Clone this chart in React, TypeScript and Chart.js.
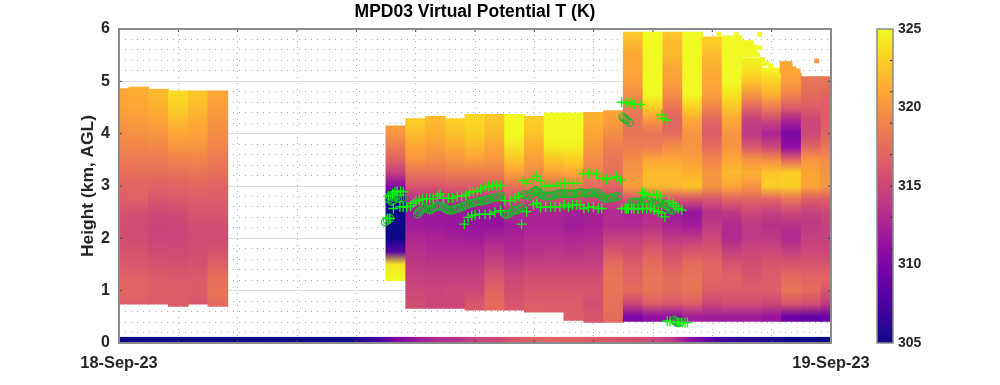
import React, { useEffect, useRef } from "react";
import { Chart, registerables } from "chart.js";

Chart.register(...registerables);

const TITLE = "MPD03 Virtual Potential T (K)";
const Y_TITLE = "Height (km, AGL)";
const START_LABEL = "18-Sep-23";
const END_LABEL = "19-Sep-23";
const FONT = "'Liberation Sans', Arial, sans-serif";
const TEXT = "#262626";

// Time (hours after start) of each measured profile
const profileHours = [0, 0.667, 1.333, 2, 2.667, 3.333, 9.333, 10, 10.667, 11.333, 12, 12.667, 13.333, 14, 14.667, 15.333, 16, 16.667, 17.333, 18, 18.667, 19.333, 20, 20.667, 21.333, 22, 22.667, 23.333, 24];
const profileBottoms = [0.74, 0.74, 0.74, 0.7, 0.74, 0.7, 1.19, 0.66, 0.66, 0.66, 0.625, 0.625, 0.625, 0.59, 0.59, 0.43, 0.395, 0.395, 0.41, 0.41, 0.41, 0.41, 0.41, 0.41, 0.41, 0.41, 0.41, 0.41, 0.41];
const profileTops = [4.86, 4.89, 4.85, 4.82, 4.82, 4.82, 4.15, 4.29, 4.33, 4.29, 4.37, 4.37, 4.37, 4.33, 4.4, 4.4, 4.41, 4.44, 5.94, 5.94, 5.94, 5.94, 5.85, 5.87, 5.45, 5.26, 5.16, 5.09, 5.09];

// Heights of the values in each profile start at this height and rise in equal steps
const LEVEL_START = 0.5;
const LEVEL_STEP = 0.25;
const LEVEL_END = 6;

const profileValues: number[][] = [
  [316, 316.5, 317, 316.8, 316.3, 315.8, 315.5, 315.5, 315.8, 316.5, 317, 317.7, 318.3, 319, 319.6, 320.2, 320.7, 321],
  [316, 316.5, 317, 316.8, 316.2, 315.8, 315.4, 315.3, 315.6, 316.8, 317, 317.6, 318.3, 319, 319.8, 320.4, 321, 321.4],
  [316, 316.4, 316.6, 316.4, 315.9, 315.3, 314.9, 314.8, 315.2, 316, 316.8, 317.6, 318.4, 319.2, 320, 320.8, 321.5, 322],
  [316, 316.4, 316.6, 316.2, 315.7, 315.2, 314.9, 315, 315.4, 316.3, 316.9, 317.8, 318.9, 320, 321, 322, 323, 323.5],
  [315.5, 316, 316.5, 316.3, 315.8, 315.5, 315.3, 315.5, 316, 316.5, 317.2, 318, 319, 320, 320.7, 321.3, 322, 322.5],
  [316, 317.5, 318, 317.6, 316.8, 315.8, 315.3, 315.5, 316, 316.5, 317, 317.6, 318.3, 319, 319.5, 320, 320.5, 321],
  [325, 325, 325, 325, 324, 308, 305, 305, 305, 305.5, 310.5, 314.5, 316.8, 318.5, 320, 320.8],
  [315.5, 315.5, 315, 314.5, 314, 313.5, 312.8, 312, 311.8, 313.5, 316, 318, 320, 321, 322, 323, 323],
  [315, 315, 314.8, 314.3, 313.8, 313, 312.5, 311.8, 311.8, 313.5, 316, 318, 319.5, 320.5, 321.5, 322, 322],
  [315, 315, 315, 314.3, 313.8, 313, 312.3, 311.6, 311.8, 313.8, 316.5, 318.5, 320, 321.3, 322.3, 323, 323],
  [316.5, 316, 315, 314.5, 313.8, 313, 312, 311.4, 311.4, 313.8, 316.5, 318.5, 320.5, 322, 323, 323.5, 323.5],
  [317, 317.5, 317, 316, 314.8, 313.8, 312.5, 311.4, 311.4, 313.8, 316.5, 318.5, 320, 321, 322, 322.5, 322.5],
  [316, 316, 315.5, 315, 314, 313, 312.5, 312, 313, 315.5, 318, 320.5, 322.5, 324, 325, 325, 325],
  [317, 316.5, 316, 315.5, 314.5, 313.5, 313, 312.5, 312.5, 315, 318, 319.5, 320.5, 321.5, 322.5, 323, 323],
  [316.5, 316.5, 316, 315.5, 314.5, 313.8, 313, 312.5, 312.5, 315.5, 318, 320.5, 322.5, 324.5, 325, 325, 325],
  [316.5, 316.5, 316, 315.5, 314.5, 313.5, 312.8, 312, 312.3, 315.3, 318.5, 321, 323, 324.5, 325, 325, 325],
  [316, 315.5, 316, 315.5, 314.5, 313.8, 313, 312.3, 312.5, 315, 317.5, 318.8, 319.5, 320.3, 321, 321.5, 321.5],
  [317.5, 317.8, 318, 318, 317.5, 316, 314.5, 313, 313, 315, 317, 317.8, 318, 318.5, 319.5, 320.5, 321],
  [310, 315, 317.5, 317, 316.5, 315.5, 314.5, 313, 312.5, 316, 320.5, 320, 319.5, 318.5, 318, 318, 318.5, 319.5, 320.5, 321, 321, 322, 323],
  [311, 316.5, 318, 318, 317.5, 316.5, 315, 313.5, 313, 317, 322, 322, 321, 318.5, 318, 320, 323, 325, 325, 325, 325, 325, 325],
  [311, 316, 317.5, 317.5, 316.5, 315.5, 314, 312.5, 312, 316, 322, 322, 321, 319.5, 317.5, 317, 318, 319.5, 320.5, 321, 322, 322, 323],
  [312, 316.5, 318, 318, 317.5, 316, 314, 312, 311.5, 316, 322.5, 321.5, 320.5, 320, 320, 321, 323, 325, 325, 325, 325, 325, 325],
  [312, 315, 316.5, 317, 317, 316, 315, 314, 313.5, 316, 320, 320, 319, 317.5, 316.5, 317, 319, 320.5, 321, 321.5, 322, 323, 323],
  [312, 315.5, 316.5, 316.8, 316, 314.5, 313, 313, 314, 317, 321, 322, 321, 320, 320, 321, 322.5, 324, 325, 325, 325, 325, 325],
  [312, 315.5, 316.5, 316, 315.5, 315, 314, 314, 315, 317, 320, 321.5, 320, 316, 314, 314.5, 317, 320, 322.5, 324, 325, 325],
  [311.5, 315, 316.5, 316.5, 316, 315, 314, 313.5, 314.5, 317, 323, 322.5, 319.5, 315, 312.5, 315, 318.5, 321.5, 323, 325],
  [309, 316, 318, 317.5, 316, 314.5, 313, 313.5, 315, 318, 323, 323, 317, 311, 310, 312.5, 316.5, 319, 320.5, 321],
  [308.5, 315.5, 317.5, 317, 316, 315, 314.5, 314, 314.5, 316.5, 321, 321, 320, 317, 315, 315, 316.5, 317.5, 318],
  [309, 314, 316, 317, 316, 315, 314.5, 314.5, 315, 316.5, 320, 320, 319.5, 318, 317, 316.5, 316.5, 317, 318],
];

// Isolated cells along the ragged top of the last profiles: hour, height, value
const fringeCells: number[][] = [
  [20.22, 5.9, 325], [20.8, 5.9, 325], [21.03, 5.74, 325], [21.03, 5.66, 325], [21.03, 5.59, 325], [21.03, 5.51, 325],
  [21.17, 5.74, 325], [21.17, 5.66, 325], [21.17, 5.59, 325], [21.17, 5.51, 325], [21.3, 5.74, 325], [21.3, 5.66, 325], [21.3, 5.59, 325], [21.3, 5.51, 325],
  [21.44, 5.66, 325], [21.44, 5.59, 325], [21.44, 5.51, 325], [21.52, 5.51, 325], [21.6, 5.9, 325], [21.6, 5.64, 325],
  [21.71, 5.41, 325], [21.71, 5.34, 325], [21.84, 5.34, 325], [21.97, 5.29, 325],
  [22.35, 5.34, 321], [22.35, 5.26, 321], [22.35, 5.2, 321], [22.48, 5.34, 321], [22.48, 5.26, 321], [22.48, 5.2, 321],
  [22.62, 5.34, 321], [22.62, 5.26, 321], [22.62, 5.2, 321], [22.75, 5.24, 321], [22.75, 5.18, 321], [22.89, 5.2, 321], [23.52, 5.39, 320],
];

// Surface strip along the bottom of the plot
const stripHours = [0, 0.667, 1.333, 2, 2.667, 3.333, 4, 4.667, 5.333, 6, 6.667, 7.333, 8, 8.667, 9.333, 10, 10.667, 11.333, 12, 12.667, 13.333, 14, 14.667, 15.333, 16, 16.667, 17.333, 18, 18.667, 19.333, 20, 20.667, 21.333, 22, 22.667, 23.333, 24];
const stripValues = [305, 305, 305, 305, 305, 305, 305, 305, 305, 305, 305, 305, 305.5, 307, 310, 311.5, 313, 313.5, 314.5, 315, 316, 317, 317, 316.8, 316.5, 316, 315.7, 315, 314, 310.5, 308, 306.5, 306, 305.5, 305, 305, 305];
const STRIP_TOP = 0.11;

const plusMarkers: number[][] = [
  [9.08, 2.81], [9.22, 2.85], [9.3, 2.89], [9.38, 2.9], [9.49, 2.9], [9.58, 2.89], [9.04, 2.38], [9.13, 2.38],
  [9.25, 2.57], [9.47, 2.6], [9.58, 2.6], [9.7, 2.6], [9.83, 2.62], [9.92, 2.67], [10.01, 2.71], [10.12, 2.73], [10.23, 2.75], [10.37, 2.76], [10.48, 2.76], [10.59, 2.76], [10.73, 2.81], [10.82, 2.85], [10.93, 2.77], [11.1, 2.77], [11.25, 2.77], [11.4, 2.8], [11.55, 2.81], [11.7, 2.83], [11.81, 2.87], [11.94, 2.89], [12.08, 2.9], [12.19, 2.94], [12.34, 2.98], [12.45, 2.99], [12.59, 3.01], [12.73, 3.01], [12.86, 3.01],
  [13.01, 2.72], [13.18, 2.72], [13.35, 2.77], [13.46, 2.8], [13.63, 3.1], [13.76, 3.05], [13.91, 3.13], [14.06, 3.19], [14.19, 3.1], [14.32, 2.99], [14.45, 3.01], [14.58, 3.0], [14.72, 3.01], [14.86, 3.05], [15.01, 3.05], [15.18, 3.05], [15.31, 3.05], [15.45, 3.05], [15.65, 3.23], [15.82, 3.24], [15.93, 3.24], [16.1, 3.23], [16.27, 3.15], [16.44, 3.13], [16.6, 3.15], [16.77, 3.18], [16.91, 3.11],
  [11.64, 2.27], [11.77, 2.4], [11.89, 2.43], [12.0, 2.45], [12.15, 2.46], [12.34, 2.46], [12.5, 2.46], [12.67, 2.5], [12.86, 2.53], [13.57, 2.27], [13.74, 2.51], [13.97, 2.64], [14.08, 2.67], [14.21, 2.59], [14.38, 2.6], [14.55, 2.6], [14.7, 2.6], [14.86, 2.6], [15.01, 2.64], [15.15, 2.6], [15.29, 2.64], [15.43, 2.64], [15.54, 2.64], [15.67, 2.57], [15.82, 2.59], [15.99, 2.6], [16.16, 2.57], [16.27, 2.57], [16.94, 2.57], [17.11, 2.57],
  [16.94, 4.6], [17.09, 4.59], [17.22, 4.6], [17.28, 4.56], [17.39, 4.56], [17.56, 4.56], [18.29, 4.36], [18.35, 4.29], [18.48, 4.26],
  [17.06, 2.57], [17.17, 2.57], [17.28, 2.57], [17.36, 2.57], [17.5, 2.56], [17.65, 2.57], [17.79, 2.57], [17.92, 2.57], [18.04, 2.54], [18.18, 2.51], [18.29, 2.48], [18.4, 2.41],
  [17.65, 2.88], [17.73, 2.86], [17.88, 2.83], [18.01, 2.84], [18.12, 2.83], [18.24, 2.81], [18.55, 2.71], [18.68, 2.67], [18.76, 2.62], [18.85, 2.57], [18.97, 2.54],
  [18.48, 0.42], [18.57, 0.41], [18.85, 0.39], [18.97, 0.39], [19.08, 0.39], [19.16, 0.39],
];

const circleMarkers: number[][] = [
  [8.97, 2.31], [9.04, 2.34], [9.13, 2.38], [9.13, 2.8], [9.19, 2.7], [9.27, 2.78], [9.36, 2.81], [9.47, 2.77], [9.56, 2.77], [9.1, 2.75], [9.23, 2.72], [9.4, 2.76],
  [10.06, 2.46], [10.11, 2.5], [10.17, 2.53], [10.24, 2.57], [10.31, 2.59], [10.4, 2.56], [10.48, 2.54], [10.55, 2.56], [10.62, 2.59], [10.69, 2.61], [10.76, 2.62], [10.84, 2.61], [10.93, 2.6], [10.98, 2.58], [11.04, 2.55], [11.12, 2.54], [11.21, 2.54], [11.3, 2.55], [11.38, 2.57], [11.46, 2.58], [11.55, 2.6], [11.63, 2.62], [11.72, 2.64], [11.8, 2.66], [11.89, 2.67], [11.97, 2.68], [12.06, 2.7], [12.14, 2.71], [12.22, 2.71], [12.3, 2.72], [12.39, 2.73], [12.47, 2.75], [12.56, 2.77], [12.64, 2.78], [12.73, 2.78], [12.81, 2.79], [12.9, 2.8],
  [13.01, 2.46], [13.06, 2.45], [13.12, 2.46], [13.2, 2.49], [13.27, 2.53], [13.33, 2.54], [13.4, 2.54], [13.48, 2.56], [13.57, 2.59], [13.65, 2.83], [13.72, 2.82], [13.8, 2.8], [13.88, 2.85], [13.97, 2.89], [14.02, 2.91], [14.08, 2.91], [14.13, 2.89], [14.19, 2.86], [14.25, 2.83], [14.32, 2.81], [14.4, 2.8], [14.47, 2.81], [14.55, 2.81], [14.64, 2.81], [14.72, 2.83], [14.81, 2.85], [14.9, 2.86], [14.98, 2.86], [15.06, 2.85], [15.15, 2.85], [15.23, 2.85], [15.31, 2.85], [15.4, 2.86], [15.48, 2.87], [15.56, 2.88], [15.65, 2.87], [15.73, 2.86], [15.82, 2.86], [15.9, 2.87], [15.99, 2.87], [16.07, 2.87], [16.16, 2.85], [16.24, 2.81], [16.32, 2.78], [16.4, 2.76], [16.49, 2.77], [16.57, 2.77], [16.66, 2.78], [16.75, 2.8], [16.83, 2.8],
  [16.98, 4.32], [17.04, 4.29], [17.11, 4.26], [17.22, 4.21],
  [17.28, 2.69], [17.36, 2.69], [17.45, 2.69], [17.53, 2.7], [17.62, 2.71], [17.7, 2.72], [17.79, 2.72], [17.87, 2.71], [17.95, 2.69], [18.03, 2.68], [18.12, 2.68], [18.2, 2.68], [18.29, 2.67], [18.38, 2.65], [18.46, 2.62], [18.52, 2.6], [18.57, 2.57], [18.6, 2.55], [18.65, 2.53],
  [18.71, 0.44], [18.75, 0.41], [18.8, 0.39], [18.85, 0.39], [18.91, 0.39],
];

// Colour bar
const CB_MIN = 305;
const CB_MAX = 325;
const cbTicks = [307, 309, 311, 313, 315, 317, 319, 321, 323];

const PLASMA = [
  [13, 8, 135], [65, 4, 157], [106, 0, 168], [143, 13, 164], [177, 42, 144], [204, 71, 120],
  [225, 100, 98], [241, 132, 75], [252, 166, 54], [252, 206, 37], [240, 249, 33],
];

function colourOf(v: number): string {
  const t = Math.min(1, Math.max(0, (v - CB_MIN) / (CB_MAX - CB_MIN))) * (PLASMA.length - 1);
  const i = Math.min(PLASMA.length - 2, Math.floor(t));
  const f = t - i;
  const c = PLASMA[i].map((a, n) => Math.round(a + (PLASMA[i + 1][n] - a) * f));
  return `rgb(${c[0]},${c[1]},${c[2]})`;
}

const frameAndTicks = {
  id: "frameAndTicks",
  afterDatasetsDraw(chart: any) {
    const { ctx, chartArea: a, scales } = chart;
    ctx.save();
    ctx.strokeStyle = "#444";
    ctx.lineWidth = 1;
    ctx.beginPath();
    for (const t of scales.x.ticks) {
      const x = scales.x.getPixelForValue(t.value);
      ctx.moveTo(x, a.bottom);
      ctx.lineTo(x, a.bottom - 3);
      ctx.moveTo(x, a.top);
      ctx.lineTo(x, a.top + 3);
    }
    for (const t of scales.y.ticks) {
      if (Math.abs(t.value - Math.round(t.value)) > 1e-6) continue;
      const y = scales.y.getPixelForValue(t.value);
      ctx.moveTo(a.left, y);
      ctx.lineTo(a.left + 3, y);
      ctx.moveTo(a.right, y);
      ctx.lineTo(a.right - 3, y);
    }
    ctx.stroke();
    ctx.strokeStyle = "#8a8a8a";
    ctx.lineWidth = 2;
    ctx.strokeRect(a.left, a.top, a.right - a.left, a.bottom - a.top);
    ctx.restore();
  },
  afterLayout(chart: any) {
    if (chart.titleBlock) {
      chart.titleBlock.left = chart.chartArea.left;
      chart.titleBlock.right = chart.chartArea.right;
    }
  },
};

const colourbarFrame = {
  id: "colourbarFrame",
  afterDatasetsDraw(chart: any) {
    const { ctx, chartArea: a, scales } = chart;
    ctx.save();
    ctx.strokeStyle = "#333";
    ctx.lineWidth = 1;
    ctx.beginPath();
    for (const v of cbTicks) {
      const y = scales.y.getPixelForValue(v);
      ctx.moveTo(a.right, y);
      ctx.lineTo(a.right - 3, y);
    }
    ctx.stroke();
    ctx.strokeStyle = "#8a8a8a";
    ctx.lineWidth = 1.5;
    ctx.strokeRect(a.left, a.top, a.right - a.left, a.bottom - a.top);
    ctx.restore();
  },
};

export default function App() {
  const mainRef = useRef<HTMLCanvasElement>(null);
  const barRef = useRef<HTMLCanvasElement>(null);

  useEffect(() => {
    const columnColour = (c: any) => {
      if (c.dataIndex === undefined) return "transparent";
      const y = c.chart.scales.y;
      const y0 = y.getPixelForValue(LEVEL_START);
      const y1 = y.getPixelForValue(LEVEL_END);
      if (!Number.isFinite(y0) || !Number.isFinite(y1)) return "transparent";
      const g = c.chart.ctx.createLinearGradient(0, y0, 0, y1);
      const span = LEVEL_END - LEVEL_START;
      profileValues[c.dataIndex].forEach((v, i) => {
        g.addColorStop((i * LEVEL_STEP) / span, colourOf(v));
      });
      return g;
    };
    const stripColour = (c: any) => {
      if (c.dataIndex === undefined) return "transparent";
      const x = c.chart.scales.x;
      const x0 = x.getPixelForValue(0);
      const x1 = x.getPixelForValue(24);
      if (!Number.isFinite(x0) || !Number.isFinite(x1)) return "transparent";
      const g = c.chart.ctx.createLinearGradient(x0, 0, x1, 0);
      stripHours.forEach((h, i) => g.addColorStop(h / 24, colourOf(stripValues[i])));
      return g;
    };
    const fringeColour = (c: any) => (c.dataIndex === undefined ? "transparent" : colourOf(fringeCells[c.dataIndex][2]));

    const main = new Chart(mainRef.current!, {
      type: "bar",
      data: {
        datasets: [
          {
            label: "Surface",
            data: stripHours.map((h) => ({ x: h, y: [0, STRIP_TOP] })),
            backgroundColor: stripColour,
            stack: "a",
            barThickness: 20,
            order: 4,
          },
          {
            label: "Virtual potential T",
            data: profileHours.map((h, i) => ({ x: h, y: [profileBottoms[i], profileTops[i]] })),
            backgroundColor: columnColour,
            stack: "a",
            barThickness: 20,
            order: 3,
          },
          {
            type: "scatter",
            label: "Top cells",
            data: fringeCells.map(([x, y]) => ({ x, y })),
            pointStyle: "rect",
            pointRadius: 3.4,
            borderWidth: 0,
            backgroundColor: fringeColour,
            order: 2,
          },
          {
            type: "scatter",
            label: "Layer height",
            data: circleMarkers.map(([x, y]) => ({ x, y })),
            pointStyle: "circle",
            pointRadius: 3.7,
            borderColor: "rgba(25,185,45,0.9)",
            borderWidth: 1.3,
            backgroundColor: "transparent",
            order: 1,
          },
          {
            type: "scatter",
            label: "Layer base",
            data: plusMarkers.map(([x, y]) => ({ x, y })),
            pointStyle: "cross",
            pointRadius: 5,
            borderColor: "#00ff00",
            borderWidth: 1.3,
            order: 0,
          },
        ] as any,
      },
      options: {
        animation: false,
        responsive: false,
        layout: { padding: { left: 0, right: 169, top: 0, bottom: 0 } },
        plugins: {
          legend: { display: false },
          tooltip: { enabled: false },
          title: {
            display: true,
            text: TITLE,
            color: "#000",
            font: { family: FONT, size: 17.5, weight: "bold", lineHeight: 1.2 },
            padding: { top: 2, bottom: 6 },
          },
        },
        scales: {
          x: {
            type: "linear",
            min: 0,
            max: 24,
            offset: false,
            afterFit: (s: any) => { s.height = 42; },
            ticks: {
              stepSize: 2,
              autoSkip: false,
              maxRotation: 0,
              padding: 11,
              color: TEXT,
              font: { family: FONT, size: 16.4, weight: "bold" },
              callback: (v: number) => (v === 0 ? START_LABEL : v === 24 ? END_LABEL : ""),
            },
            grid: { drawTicks: false, offset: false, color: "#b0b0b0", lineWidth: 1 },
            border: { display: false, dash: [1, 5] },
          },
          y: {
            type: "linear",
            min: 0,
            max: 6,
            stacked: false,
            afterFit: (s: any) => { s.width = 119; },
            title: {
              display: true,
              text: Y_TITLE,
              color: TEXT,
              font: { family: FONT, size: 17.4, weight: "bold", lineHeight: 1.2 },
              padding: { top: 78, bottom: 0 },
            },
            ticks: {
              stepSize: 0.2,
              autoSkip: false,
              padding: 9,
              color: TEXT,
              font: { family: FONT, size: 16, weight: "bold" },
              callback: (v: number) => (Math.abs(v - Math.round(v)) < 1e-6 ? String(Math.round(v)) : ""),
            },
            grid: {
              drawTicks: false,
              lineWidth: 1,
              color: (c: any) => (c.tick && Math.abs(c.tick.value - Math.round(c.tick.value)) < 1e-6 ? "#e0e0e0" : "#b0b0b0"),
            },
            border: {
              display: false,
              dash: (c: any) => (c.tick && Math.abs(c.tick.value - Math.round(c.tick.value)) < 1e-6 ? [] : [1, 5]),
            },
          },
        },
      } as any,
      plugins: [frameAndTicks],
    });

    const cbColour = (c: any) => {
      if (c.dataIndex === undefined) return "transparent";
      const y = c.chart.scales.y;
      const y0 = y.getPixelForValue(CB_MIN);
      const y1 = y.getPixelForValue(CB_MAX);
      if (!Number.isFinite(y0) || !Number.isFinite(y1)) return "transparent";
      const g = c.chart.ctx.createLinearGradient(0, y0, 0, y1);
      PLASMA.forEach((_, i) => {
        const f = i / (PLASMA.length - 1);
        g.addColorStop(f, colourOf(CB_MIN + f * (CB_MAX - CB_MIN)));
      });
      return g;
    };

    const bar = new Chart(barRef.current!, {
      type: "bar",
      data: {
        labels: ["T"],
        datasets: [{ data: [[CB_MIN, CB_MAX]], backgroundColor: cbColour, barPercentage: 1, categoryPercentage: 1 }],
      },
      options: {
        animation: false,
        responsive: false,
        layout: { padding: { left: 877, right: 0, top: 29, bottom: 42 } },
        plugins: { legend: { display: false }, tooltip: { enabled: false } },
        scales: {
          x: { display: false },
          y: {
            position: "right",
            min: CB_MIN,
            max: CB_MAX,
            afterFit: (s: any) => { s.width = 107; },
            ticks: {
              stepSize: 5,
              padding: 5,
              color: TEXT,
              font: { family: FONT, size: 14, weight: "bold" },
            },
            grid: { display: false, drawTicks: false },
            border: { display: false },
          },
        },
      } as any,
      plugins: [colourbarFrame],
    });

    return () => {
      main.destroy();
      bar.destroy();
    };
  }, []);

  return (
    <div style={{ position: "fixed", left: 0, top: 0, width: 1000, height: 385, background: "#fff" }}>
      <canvas ref={mainRef} width={1000} height={385} style={{ position: "absolute", left: 0, top: 0 }} />
      <canvas ref={barRef} width={1000} height={385} style={{ position: "absolute", left: 0, top: 0, pointerEvents: "none" }} />
    </div>
  );
}
